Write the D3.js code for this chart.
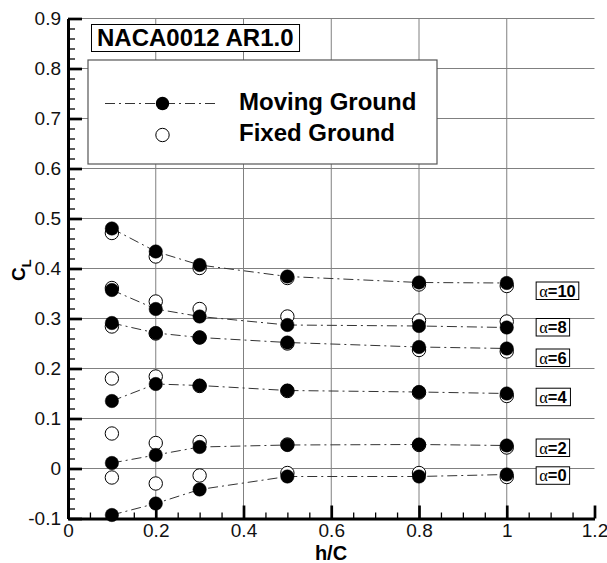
<!DOCTYPE html>
<html>
<head>
<meta charset="utf-8">
<script src="https://cdn.jsdelivr.net/npm/d3@7"></script>
<style>
  body { margin: 0; background: #fff; }
  svg { display: block; }
</style>
</head>
<body>
<svg id="chart" width="607" height="563"></svg>
<script>
// ---------- data ----------
const hC = [0.1, 0.2, 0.3, 0.5, 0.8, 1.0];
const alphas = [0, 2, 4, 6, 8, 10];
// Moving ground (filled symbols, dash-dot line)
const moving0  = [-0.093, -0.070, -0.042, -0.016, -0.016, -0.012];
const moving2  = [0.011, 0.027, 0.043, 0.047, 0.048, 0.046];
const moving4  = [0.135, 0.169, 0.166, 0.156, 0.153, 0.150];
const moving6  = [0.291, 0.271, 0.262, 0.252, 0.243, 0.240];
const moving8  = [0.357, 0.319, 0.304, 0.287, 0.285, 0.282];
const moving10 = [0.480, 0.434, 0.407, 0.384, 0.372, 0.371];
// Fixed ground (open symbols)
const fixed0  = [-0.018, -0.030, -0.014, -0.009, -0.009, -0.017];
const fixed2  = [0.070, 0.051, 0.053, 0.048, 0.047, 0.042];
const fixed4  = [0.180, 0.184, 0.165, 0.155, 0.152, 0.145];
const fixed6  = [0.284, 0.270, 0.262, 0.250, 0.237, 0.234];
const fixed8  = [0.361, 0.334, 0.319, 0.304, 0.296, 0.294];
const fixed10 = [0.471, 0.424, 0.401, 0.381, 0.368, 0.365];

const xTicks = [0, 0.2, 0.4, 0.6, 0.8, 1.0, 1.2];
const xTickLabels = ["0", "0.2", "0.4", "0.6", "0.8", "1", "1.2"];
const yTicks = [-0.1, 0, 0.1, 0.2, 0.3, 0.4, 0.5, 0.6, 0.7, 0.8, 0.9];
const yTickLabels = ["-0.1", "0", "0.1", "0.2", "0.3", "0.4", "0.5", "0.6", "0.7", "0.8", "0.9"];
const titleText = "NACA0012 AR1.0";
const legendNames = ["Moving Ground", "Fixed Ground"];

const movingSeries = [moving0, moving2, moving4, moving6, moving8, moving10];
const fixedSeries = [fixed0, fixed2, fixed4, fixed6, fixed8, fixed10];

// ---------- layout ----------
const svg = d3.select("#chart");
const x = d3.scaleLinear().domain([0, 1.2]).range([68, 594.5]);
const y = d3.scaleLinear().domain([-0.1, 0.9]).range([518.5, 18.5]);
const FONT = "'Liberation Sans', Arial, Helvetica, sans-serif";
const R = 6.7;

// grid
const grid = svg.append("g").attr("stroke", "#808080").attr("stroke-width", 1).attr("fill", "none");
xTicks.filter(t => t > 0 && t < 1.2).forEach(t => {
  grid.append("line").attr("x1", x(t)).attr("x2", x(t)).attr("y1", y(-0.1)).attr("y2", y(0.9));
});
yTicks.filter(t => t > -0.1).forEach(t => {
  grid.append("line").attr("x1", x(0)).attr("x2", x(1.2)).attr("y1", y(t)).attr("y2", y(t));
});

// axes: minor ticks
const xMinor = d3.range(0, 1.2001, 0.05).map(v => +v.toFixed(3)).filter(v => !xTicks.some(t => Math.abs(t - v) < 1e-6));
const yMinor = d3.range(-0.1, 0.9001, 0.02).map(v => +v.toFixed(3)).filter(v => !yTicks.some(t => Math.abs(t - v) < 1e-6));

const gxMinor = svg.append("g").attr("transform", `translate(0,${y(-0.1)})`)
  .call(d3.axisBottom(x).tickValues(xMinor).tickSize(-6).tickSizeOuter(0).tickFormat(""));
gxMinor.select(".domain").remove();
gxMinor.selectAll(".tick line").attr("stroke", "#000").attr("stroke-width", 1.3);

const gyMinor = svg.append("g").attr("transform", `translate(${x(0)},0)`)
  .call(d3.axisLeft(y).tickValues(yMinor).tickSize(-7).tickSizeOuter(0).tickFormat(""));
gyMinor.select(".domain").remove();
gyMinor.selectAll(".tick line").attr("stroke", "#000").attr("stroke-width", 1.3);

// major axes
const gx = svg.append("g").attr("transform", `translate(0,${y(-0.1)})`)
  .call(d3.axisBottom(x).tickValues(xTicks).tickSize(-13).tickSizeOuter(0).tickPadding(5)
    .tickFormat((d, i) => xTickLabels[i]));
gx.select(".domain").attr("stroke", "#000").attr("stroke-width", 3);
gx.selectAll(".tick line").attr("stroke", "#000").attr("stroke-width", 2.7);
gx.selectAll(".tick text").attr("font-family", FONT).attr("font-size", 19).attr("fill", "#111");

const gy = svg.append("g").attr("transform", `translate(${x(0)},0)`)
  .call(d3.axisLeft(y).tickValues(yTicks).tickSize(-14).tickSizeOuter(0).tickPadding(7)
    .tickFormat((d, i) => yTickLabels[i]));
gy.select(".domain").attr("stroke", "#000").attr("stroke-width", 3);
gy.selectAll(".tick line").attr("stroke", "#000").attr("stroke-width", 2.7);
gy.selectAll(".tick text").attr("font-family", FONT).attr("font-size", 19).attr("fill", "#111");

// axis titles
svg.append("text").attr("x", 331).attr("y", 559.5).attr("text-anchor", "middle")
  .attr("font-family", FONT).attr("font-weight", "bold").attr("font-size", 20).text("h/C");
const cl = svg.append("text").attr("transform", "translate(25,281) rotate(-90)")
  .attr("font-family", FONT).attr("font-weight", "bold").attr("font-size", 19);
cl.append("tspan").text("C");
cl.append("tspan").attr("font-size", 13).attr("dy", 6).text("L");

// lines (moving ground)
const line = d3.line().x((d, i) => x(hC[i])).y(d => y(d));
const linesG = svg.append("g");
movingSeries.forEach(s => {
  linesG.append("path").attr("d", line(s)).attr("fill", "none")
    .attr("stroke", "#333").attr("stroke-width", 1).attr("stroke-dasharray", "10,4,2,4");
});

// fixed ground open symbols
const openG = svg.append("g");
fixedSeries.forEach(s => {
  openG.selectAll(null).data(s).enter().append("circle")
    .attr("cx", (d, i) => x(hC[i])).attr("cy", d => y(d)).attr("r", R)
    .attr("fill", "#fff").attr("stroke", "#000").attr("stroke-width", 1);
});
// moving ground filled symbols
const fillG = svg.append("g");
movingSeries.forEach(s => {
  fillG.selectAll(null).data(s).enter().append("circle")
    .attr("cx", (d, i) => x(hC[i])).attr("cy", d => y(d)).attr("r", R)
    .attr("fill", "#000").attr("stroke", "#000").attr("stroke-width", 0.5);
});

// alpha labels (boxed), placed at right of each series
const labelAt = [-0.0136, 0.042, 0.1436, 0.222, 0.283, 0.356];
alphas.forEach((a, i) => {
  const g = svg.append("g").attr("transform", `translate(${x(1.067)},${y(labelAt[i])})`);
  const rect = g.append("rect");
  const t = g.append("text").attr("x", 3).attr("y", 6).attr("font-size", 16.5);
  t.append("tspan").attr("font-family", "'Liberation Serif', 'Times New Roman', serif").text("α");
  t.append("tspan").attr("font-family", FONT).attr("font-weight", "bold").text("=" + a);
  const bb = t.node().getBBox();
  rect.attr("x", 0).attr("y", -8.5).attr("width", bb.width + 6).attr("height", 17.5)
    .attr("fill", "#fff").attr("stroke", "#000").attr("stroke-width", 1);
});

// legend box
svg.append("rect").attr("x", 88).attr("y", 60).attr("width", 349).attr("height", 104)
  .attr("fill", "#fff").attr("stroke", "#555").attr("stroke-width", 1.2);
svg.append("line").attr("x1", 105).attr("x2", 217).attr("y1", 103.5).attr("y2", 103.5)
  .attr("stroke", "#333").attr("stroke-width", 1).attr("stroke-dasharray", "10,4,2,4");
svg.append("circle").attr("cx", 162.5).attr("cy", 103.5).attr("r", R).attr("fill", "#000");
svg.append("circle").attr("cx", 162.5).attr("cy", 135).attr("r", R)
  .attr("fill", "#fff").attr("stroke", "#000").attr("stroke-width", 1);
svg.append("text").attr("x", 239).attr("y", 110).attr("font-family", FONT)
  .attr("font-weight", "bold").attr("font-size", 24).text(legendNames[0]);
svg.append("text").attr("x", 239).attr("y", 141).attr("font-family", FONT)
  .attr("font-weight", "bold").attr("font-size", 24).text(legendNames[1]);

// title box
const titleG = svg.append("g");
const titleRect = titleG.append("rect");
const titleT = titleG.append("text").attr("x", 97).attr("y", 46).attr("font-family", FONT)
  .attr("font-weight", "bold").attr("font-size", 24).text(titleText);
const tb = titleT.node().getBBox();
titleRect.attr("x", 91.5).attr("y", 24.5).attr("width", tb.width + 11.5).attr("height", 27)
  .attr("fill", "#fff").attr("stroke", "#000").attr("stroke-width", 1);
</script>
</body>
</html>
